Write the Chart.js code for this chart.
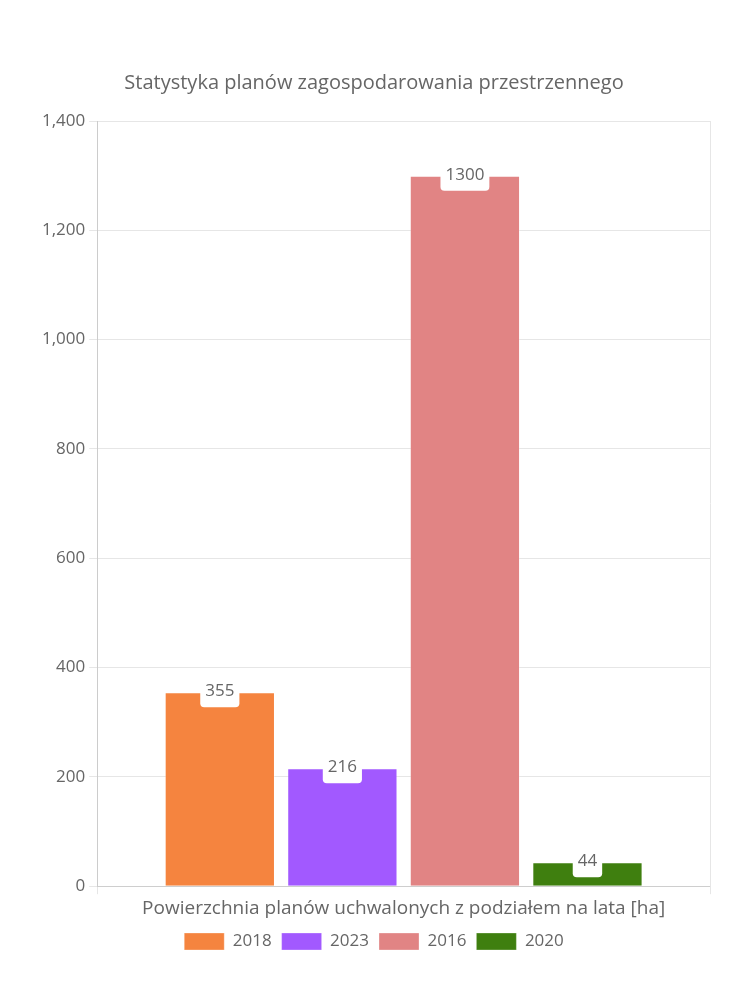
<!DOCTYPE html>
<html>
<head>
    <meta charset="utf-8">
    <title>Statystyka planów</title>
    <script src="https://cdn.jsdelivr.net/npm/chart.js"></script>
    <style>
        body { margin: 0; background: #fff; }
        #wrap { width: 750px; height: 1000px; }
    </style>
</head>
<body>
    <div id="wrap"><canvas id="plansChart" width="750" height="1000"></canvas></div>

    <script>
    // Chart data
    const categories = ['Powierzchnia planów uchwalonych z podziałem na lata [ha]'];
    const years = ['2018', '2023', '2016', '2020'];
    const areas = [355, 216, 1300, 44];
    const colors = ['#f5843f', '#a259ff', '#e18484', '#3f7f0f'];
    const yTicks = [0, 200, 400, 600, 800, 1000, 1200, 1400];

    const fontFamily = '"Open Sans", "Noto Sans", sans-serif';
    Chart.defaults.font.family = fontFamily;
    Chart.defaults.color = '#666';

    // Draw value labels in a white rounded box centered on the bar top
    const valueLabels = {
        id: 'valueLabels',
        afterDatasetsDraw(chart) {
            const ctx = chart.ctx;
            ctx.save();
            ctx.font = '17px ' + fontFamily;
            ctx.textAlign = 'center';
            ctx.textBaseline = 'middle';
            chart.data.datasets.forEach(function(ds, i) {
                const meta = chart.getDatasetMeta(i);
                meta.data.forEach(function(bar, j) {
                    const text = String(ds.data[j]);
                    const w = ctx.measureText(text).width + 10;
                    const h = 30;
                    const x = bar.x - w / 2;
                    const y = bar.y - h / 2;
                    ctx.fillStyle = '#fff';
                    ctx.beginPath();
                    ctx.roundRect(x, y, w, h, 4);
                    ctx.fill();
                    ctx.fillStyle = '#666';
                    ctx.fillText(text, bar.x, bar.y - 1);
                });
            });
            ctx.restore();
        }
    };

    new Chart(document.getElementById('plansChart'), {
        type: 'bar',
        data: {
            labels: categories,
            datasets: years.map(function(year, i) {
                return {
                    label: year,
                    data: [areas[i]],
                    backgroundColor: colors[i],
                    borderColor: 'rgba(255,255,255,0.3)',
                    borderWidth: 1
                };
            })
        },
        options: {
            responsive: false,
            animation: false,
            layout: { padding: { top: 61, left: 38, right: 40, bottom: 40 } },
            plugins: {
                title: {
                    display: true,
                    text: 'Statystyka planów zagospodarowania przestrzennego',
                    font: { size: 20, weight: 'normal' },
                    padding: { top: 10, bottom: 26 }
                },
                legend: {
                    position: 'bottom',
                    labels: { font: { size: 17 }, boxWidth: 40, boxHeight: 17 }
                },
                tooltip: { enabled: false }
            },
            scales: {
                x: {
                    ticks: { font: { size: 19 } },
                    grid: { color: '#e6e6e6' }
                },
                y: {
                    min: 0,
                    max: 1400,
                    afterBuildTicks: function(axis) {
                        axis.ticks = yTicks.map(function(v) { return { value: v }; });
                    },
                    ticks: { font: { size: 17 }, padding: 4 },
                    grid: { color: '#e6e6e6' },
                    border: { color: '#ccc' }
                }
            }
        },
        plugins: [valueLabels]
    });
    </script>
</body>
</html>
